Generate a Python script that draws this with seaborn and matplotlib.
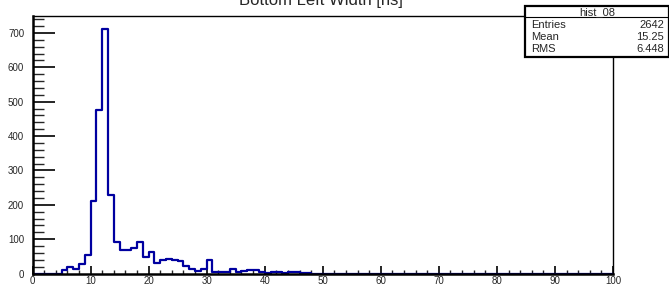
import matplotlib.pyplot as plt
import matplotlib.patches as mpatches
from matplotlib.ticker import MultipleLocator
import numpy as np
import pandas as pd
import seaborn as sns

# bin lower edges (1 ns wide) and counts
bin_lo = list(range(100))
counts = [
    0, 0, 0, 0, 0, 10, 18, 12, 29, 55,
    210, 475, 710, 228, 92, 67, 67, 73, 92, 47,
    64, 30, 39, 43, 39, 36, 22, 13, 7, 13,
    39, 5, 3, 5, 12, 5, 8, 10, 10, 3,
    1, 3, 3, 2, 5, 4, 1, 1, 0, 0,
    0, 0, 0, 0, 0, 0, 0, 0, 0, 0,
    0, 0, 0, 0, 0, 0, 0, 0, 0, 0,
    0, 0, 0, 0, 0, 0, 0, 0, 0, 0,
    0, 0, 0, 0, 0, 0, 0, 0, 0, 0,
    0, 0, 0, 0, 0, 0, 0, 0, 0, 0,
]
hist_name = "hist_08"
title = "Bottom Left Width [ns]"
stats_labels = ["Entries", "Mean", "RMS"]
stats_values = ["2642", "15.25", "6.448"]

sns.set_style("ticks")
plt.rcParams["font.family"] = ["Liberation Sans", "DejaVu Sans"]

df = pd.DataFrame({"width": np.array(bin_lo) + 0.5, "n": counts})

fig = plt.figure(figsize=(6.69, 2.87), dpi=100)
top_px, bot_px = 15.5, 273.5
ax = fig.add_axes([32.5 / 669, 1 - bot_px / 287, (613 - 32.5) / 669, (bot_px - top_px) / 287])

sns.histplot(data=df, x="width", weights="n", binwidth=1, binrange=(0, 100),
             element="step", fill=False, color="#0000a0", linewidth=1.6, ax=ax)

ax.set_xlim(0, 100)
ax.set_ylim(0, (bot_px - top_px) / 0.3437)
ax.set_xlabel("")
ax.set_ylabel("")

ax.xaxis.set_major_locator(MultipleLocator(10))
ax.xaxis.set_minor_locator(MultipleLocator(2))
ax.yaxis.set_major_locator(MultipleLocator(100))
ax.yaxis.set_minor_locator(MultipleLocator(20))
ax.tick_params(axis="x", which="major", direction="in", length=6, width=1.2,
               labelsize=7, pad=2, color="black")
ax.tick_params(axis="x", which="minor", direction="in", length=3, width=1.0)
ax.tick_params(axis="y", which="major", direction="in", length=16, width=1.2,
               labelsize=7, pad=6, color="black")
ax.tick_params(axis="y", which="minor", direction="in", length=8, width=1.0)

for side in ["top", "right"]:
    ax.spines[side].set_visible(True)
    ax.spines[side].set_linewidth(1.0)
for side in ["left", "bottom"]:
    ax.spines[side].set_linewidth(1.8)
for sp in ax.spines.values():
    sp.set_zorder(5)
    sp.set_color("black")

# title, cut at the top edge like the reference
fig.text(0.48, 1 - 5.5 / 287, title, ha="center", va="baseline", fontsize=12)

# stats box
bx0, by0, bx1, by1 = 525 / 669, 1 - 57 / 287, 1.0, 1 - 6 / 287
fig.add_artist(mpatches.Rectangle((bx0, by0), bx1 - bx0, by1 - by0,
                                  transform=fig.transFigure, facecolor="white",
                                  edgecolor="black", linewidth=1.6, zorder=10))
fig.add_artist(plt.Line2D([bx0, bx1], [1 - 17 / 287] * 2, transform=fig.transFigure,
                          color="black", linewidth=0.8, zorder=11))
fig.text((bx0 + bx1) / 2, 1 - 15 / 287, hist_name, ha="center", va="baseline",
         fontsize=8, zorder=12)
for i, (lab, val) in enumerate(zip(stats_labels, stats_values)):
    y = 1 - (28 + 12 * i) / 287
    fig.text(531 / 669, y, lab, ha="left", va="baseline", fontsize=8, zorder=12)
    fig.text(664 / 669, y, val, ha="right", va="baseline", fontsize=8, zorder=12)

fig.savefig("out.png", dpi=100)
